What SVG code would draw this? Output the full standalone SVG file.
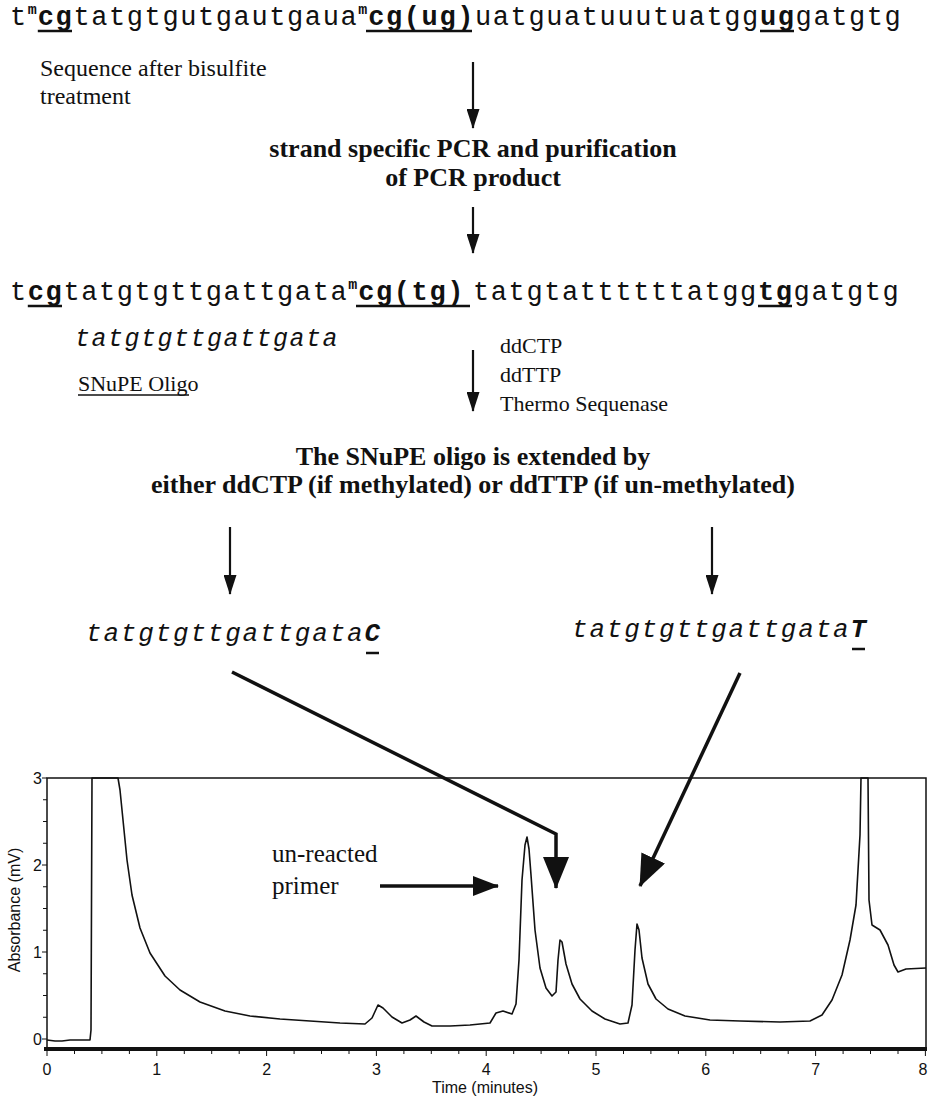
<svg xmlns="http://www.w3.org/2000/svg" width="928" height="1098" viewBox="0 0 928 1098">
<style>
.seq{font-family:"Liberation Mono",monospace;font-size:27px;letter-spacing:1.6px;fill:#111}
.b{font-weight:bold}
.sup{font-family:"Liberation Mono",monospace;font-size:15px;font-weight:bold;fill:#111}
.it{font-family:"Liberation Mono",monospace;font-style:italic;fill:#111}
.ser{font-family:"Liberation Serif",serif;fill:#111}
.sb{font-family:"Liberation Serif",serif;font-weight:bold;font-size:26px;fill:#111;text-anchor:middle}
.ax{font-family:"Liberation Sans",Arial,sans-serif;font-size:16px;fill:#111}
.ul{stroke:#111;stroke-width:2.5}
.arr{stroke:#111;stroke-width:2.2;fill:none;marker-end:url(#ah)}
.big{stroke:#111;stroke-width:3.5;fill:none;marker-end:url(#ahb)}
.frame{stroke:#111;stroke-width:1.5;fill:none}
.tick{stroke:#111;stroke-width:1}
</style>
<defs>
<marker id="ah" viewBox="0 0 20 13" refX="19" refY="6.5" markerWidth="20" markerHeight="13" markerUnits="userSpaceOnUse" orient="auto"><path d="M0,0 L20,6.5 L0,13 z" fill="#111"/></marker>
<marker id="ahb" viewBox="0 0 32 26" refX="31" refY="13" markerWidth="32" markerHeight="26" markerUnits="userSpaceOnUse" orient="auto"><path d="M0,0 L32,13 L0,26 z" fill="#111"/></marker>
<marker id="ahm" viewBox="0 0 26 20" refX="25" refY="10" markerWidth="26" markerHeight="20" markerUnits="userSpaceOnUse" orient="auto"><path d="M0,0 L26,10 L0,20 z" fill="#111"/></marker>
</defs>

<g id="seq-bisulfite">
<text class="seq" y="25"><tspan x="10">t</tspan><tspan x="73.4">tatgtgutgautgaua</tspan><tspan x="475">uatguatuuutuatgg</tspan><tspan x="795.6">gatgtg</tspan></text>
<text class="seq b" y="25"><tspan x="37.8">cg</tspan><tspan x="368.2">cg(ug)</tspan><tspan x="760">ug</tspan></text>
<text class="sup" y="14"><tspan x="27.8">m</tspan><tspan x="358.2">m</tspan></text>
<line class="ul" x1="37.8" y1="31" x2="72" y2="31"/>
<line class="ul" x1="366" y1="31" x2="472" y2="31"/>
<line class="ul" x1="760" y1="31" x2="794" y2="31"/>
<text class="ser" font-size="24" x="40" y="76">Sequence after bisulfite</text>
<text class="ser" font-size="24" x="40" y="104">treatment</text>
</g>

<g id="step-pcr">
<text class="sb" x="473" y="157">strand specific PCR and purification</text>
<text class="sb" x="473" y="186">of PCR product</text>
</g>

<g id="seq-pcr">
<text class="seq" y="300"><tspan x="10">t</tspan><tspan x="63.4">tatgtgttgattgata</tspan><tspan x="473">tatgtattttttatgg</tspan><tspan x="793.6">gatgtg</tspan></text>
<text class="seq b" y="300"><tspan x="27.8">cg</tspan><tspan x="358.2">cg(tg)</tspan><tspan x="758">tg</tspan></text>
<text class="sup" y="289"><tspan x="348.2">m</tspan></text>
<line class="ul" x1="27.8" y1="306" x2="62" y2="306"/>
<line class="ul" x1="356" y1="306" x2="470" y2="306"/>
<line class="ul" x1="758" y1="306" x2="792" y2="306"/>
</g>

<g id="oligo">
<text class="it" font-size="25" letter-spacing="1.5" x="75" y="346">tatgtgttgattgata</text>
<text class="ser" font-size="22" x="78" y="391">SNuPE Oligo</text>
<line stroke="#111" stroke-width="1.3" x1="78" y1="395" x2="189" y2="395"/>
</g>

<g id="reagents">
<text class="ser" font-size="22" x="500" y="353">ddCTP</text>
<text class="ser" font-size="22" x="500" y="382">ddTTP</text>
<text class="ser" font-size="22" x="500" y="411">Thermo Sequenase</text>
</g>

<g id="step-extend">
<text class="sb" x="473" y="465">The SNuPE oligo is extended by</text>
<text class="sb" x="473" y="493">either ddCTP (if methylated) or ddTTP (if un-methylated)</text>
</g>

<g id="product-c">
<text class="it" font-size="26" letter-spacing="1.8" y="641"><tspan x="86">tatgtgttgattgata</tspan><tspan x="364.4" font-weight="bold">C</tspan></text>
<line class="ul" x1="366" y1="653" x2="379" y2="653"/>
</g>
<g id="product-t">
<text class="it" font-size="26" letter-spacing="1.8" y="637"><tspan x="572">tatgtgttgattgata</tspan><tspan x="850.4" font-weight="bold">T</tspan></text>
<line class="ul" x1="852" y1="649" x2="865" y2="649"/>
</g>

<g id="chromatogram">
<text class="ax" transform="translate(20,910) rotate(-90)" text-anchor="middle" font-size="15">Absorbance (mV)</text>
<g text-anchor="end">
<text class="ax" x="42" y="784">3</text>
<text class="ax" x="42" y="871">2</text>
<text class="ax" x="42" y="958">1</text>
<text class="ax" x="42" y="1045">0</text>
</g>
<g text-anchor="middle">
<text class="ax" x="47" y="1075">0</text>
<text class="ax" x="156.8" y="1075">1</text>
<text class="ax" x="266.6" y="1075">2</text>
<text class="ax" x="376.4" y="1075">3</text>
<text class="ax" x="486.2" y="1075">4</text>
<text class="ax" x="596" y="1075">5</text>
<text class="ax" x="705.8" y="1075">6</text>
<text class="ax" x="815.6" y="1075">7</text>
<text class="ax" x="923" y="1075">8</text>
<text class="ax" x="485" y="1093" font-size="15">Time (minutes)</text>
</g>
<path class="tick" d="M42,778H47M43,799.75H47M43,821.5H47M43,843.25H47M42,865H47M43,886.75H47M43,908.5H47M43,930.25H47M42,952H47M43,973.75H47M43,995.5H47M43,1017.25H47M42,1039H47"/>
<path class="tick" d="M47,1050V1056M74.5,1050V1054M101.9,1050V1054M129.4,1050V1054M156.8,1050V1056M184.3,1050V1054M211.7,1050V1054M239.2,1050V1054M266.6,1050V1056M294.1,1050V1054M321.5,1050V1054M349,1050V1054M376.4,1050V1056M403.9,1050V1054M431.3,1050V1054M458.8,1050V1054M486.2,1050V1056M513.7,1050V1054M541.1,1050V1054M568.6,1050V1054M596,1050V1056M623.5,1050V1054M650.9,1050V1054M678.4,1050V1054M705.8,1050V1056M733.3,1050V1054M760.7,1050V1054M788.2,1050V1054M815.6,1050V1056M843.1,1050V1054M870.5,1050V1054M898,1050V1054M925.4,1050V1056"/>
<path class="frame" d="M47,1049V778H926V1049"/>
<line x1="44" y1="1049" x2="927" y2="1049" stroke="#111" stroke-width="4"/>
<path fill="none" stroke="#111" stroke-width="1.6" stroke-linejoin="round" d="M47,1040 L55,1041 L62,1041 L70,1040 L90,1040 L91,1030 L92,778 L118,778 L120,790 L123,820 L127,860 L132,895 L140,928 L150,953 L165,976 L180,990 L200,1002 L225,1011 L250,1016 L280,1019 L310,1021 L340,1023 L365,1024 L372,1018 L378,1005 L383,1008 L392,1017 L402,1023 L410,1020 L416,1016 L424,1022 L432,1026 L450,1026 L470,1025 L490,1023 L496,1013 L503,1011 L512,1014 L516,1004 L519,960 L522,880 L525,845 L527,837 L529,849 L531,875 L535,930 L540,968 L546,988 L552,996 L556,992 L558,960 L560,940 L562,942 L566,964 L572,984 L580,999 L592,1011 L605,1019 L620,1024 L628,1023 L632,1005 L635,950 L637,924 L639,930 L642,958 L648,984 L656,999 L668,1009 L685,1016 L710,1020 L740,1021 L780,1022 L810,1021 L822,1015 L832,1000 L842,975 L850,940 L856,905 L858,870 L860,835 L861,778 L868,778 L869,900 L872,925 L880,930 L888,945 L894,965 L898,972 L906,969 L926,968"/>
</g>

<g id="primer-label">
<text class="ser" font-size="25" x="272" y="862">un-reacted</text>
<text class="ser" font-size="25" x="272" y="894">primer</text>
</g>

<g id="connectors">
<path class="arr" d="M473,62 V128"/>
<path class="arr" d="M473,207 V253"/>
<path class="arr" d="M473,350 V411"/>
<path class="arr" d="M230,527 V594"/>
<path class="arr" d="M712,527 V594"/>
<path class="big" d="M232,672 L556,834 V888"/>
<path class="big" d="M740,673 L640,886"/>
<path stroke="#111" stroke-width="3.5" fill="none" marker-end="url(#ahm)" d="M380,886 H498"/>
</g>
</svg>
